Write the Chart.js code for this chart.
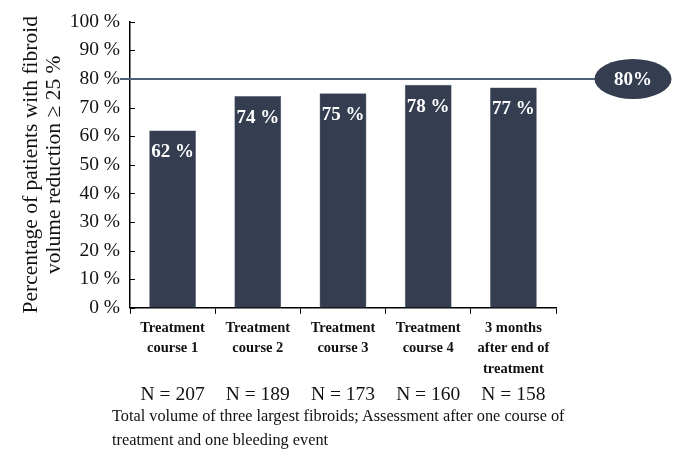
<!DOCTYPE html>
<html>
<head>
<meta charset="utf-8">
<script src="https://cdn.jsdelivr.net/npm/chart.js@4.4.1/dist/chart.umd.min.js"></script>
<style>
  html, body { margin: 0; padding: 0; background: #fff; }
  #wrap { position: relative; width: 685px; height: 471px; }
  #caption {
    position: absolute; left: 112px; top: 404px; white-space: nowrap;
    font-family: 'Liberation Serif', serif; font-size: 16.3px; line-height: 24px; color: #111;
  }
</style>
</head>
<body>
<div id="wrap">
  <canvas id="chart" width="685" height="471"></canvas>
  <div id="caption">Total volume of three largest fibroids; Assessment after one course of<br>treatment and one bleeding event</div>
</div>
<script>
const categories = [
  ['Treatment', 'course 1'],
  ['Treatment', 'course 2'],
  ['Treatment', 'course 3'],
  ['Treatment', 'course 4'],
  ['3 months', 'after end of', 'treatment'],
];
const percentages = [62, 74, 75, 78, 77];
const sampleSizes = [207, 189, 173, 160, 158];
const targetValue = 80;
const yTitle = ['Percentage of patients with fibroid', 'volume reduction \u2265 25 %'];

const serif = "'Liberation Serif', 'Times New Roman', serif";
const barColor = '#343e50';
const lineColor = '#4b6179';

const overlay = {
  id: 'overlay',
  afterDatasetsDraw(chart) {
    const { ctx, chartArea, scales } = chart;
    const y = scales.y;

    // inward ticks on the y axis
    ctx.save();
    ctx.strokeStyle = '#000';
    ctx.lineWidth = 1;
    y.ticks.forEach(t => {
      const py = Math.round(y.getPixelForValue(t.value)) + 0.5;
      ctx.beginPath();
      ctx.moveTo(chartArea.left, py);
      ctx.lineTo(chartArea.left + 5, py);
      ctx.stroke();
    });

    // value labels inside the bars
    const meta = chart.getDatasetMeta(0);
    ctx.fillStyle = '#fff';
    ctx.font = 'bold 19px ' + serif;
    ctx.textAlign = 'center';
    ctx.textBaseline = 'middle';
    meta.data.forEach((bar, i) => {
      ctx.fillText(percentages[i] + ' %', bar.x, bar.y + 22);
    });

    // 80 % target line with ellipse label
    const ty = y.getPixelForValue(targetValue);
    const cx = chartArea.right + 77;
    ctx.strokeStyle = lineColor;
    ctx.lineWidth = 2;
    ctx.beginPath();
    ctx.moveTo(chartArea.left - 10, ty);
    ctx.lineTo(cx, ty);
    ctx.stroke();

    ctx.fillStyle = barColor;
    ctx.beginPath();
    ctx.ellipse(cx, ty, 38.5, 20, 0, 0, Math.PI * 2);
    ctx.fill();
    ctx.fillStyle = '#fff';
    ctx.font = 'bold 19px ' + serif;
    ctx.fillText(targetValue + '%', cx, ty + 1);
    ctx.restore();
  },
};

const canvas = document.getElementById('chart');
new Chart(canvas, {
  type: 'bar',
  data: {
    labels: categories,
    datasets: [{
      data: percentages,
      backgroundColor: barColor,
      borderColor: '#5a6272',
      borderWidth: 0.5,
      barPercentage: 0.55,
      categoryPercentage: 1,
      xAxisID: 'x',
    }],
  },
  options: {
    responsive: false,
    animation: false,
    events: [],
    layout: { padding: { left: 20, right: 129, top: 12, bottom: 64 } },
    plugins: { legend: { display: false }, tooltip: { enabled: false } },
    scales: {
      x: {
        type: 'category',
        weight: 0,
        offset: true,
        grid: { offset: true, drawOnChartArea: false, color: '#000', tickLength: 6, lineWidth: 1 },
        border: { color: '#000', width: 1.5 },
        ticks: {
          color: '#111',
          font: { family: serif, size: 14.5, weight: 'bold', lineHeight: 1.42 },
          padding: 4,
          maxRotation: 0,
          autoSkip: false,
        },
      },
      n: {
        type: 'category',
        position: 'bottom',
        weight: 1,
        offset: true,
        labels: sampleSizes.map(n => 'N = ' + n),
        grid: { display: false, drawTicks: false },
        border: { display: false },
        ticks: {
          color: '#111',
          font: { family: serif, size: 19.5 },
          padding: 0,
          maxRotation: 0,
          autoSkip: false,
        },
      },
      y: {
        min: 0,
        max: 100,
        afterFit(scale) { scale.width = 110; },
        grid: { display: false, drawTicks: false },
        border: { color: '#000', width: 1.5 },
        ticks: {
          stepSize: 10,
          color: '#111',
          padding: 10,
          font: { family: serif, size: 19.5 },
          callback: v => v + ' %',
        },
        title: {
          display: true,
          text: yTitle,
          color: '#111',
          font: { family: serif, size: 21.5, lineHeight: 1.05 },
          padding: { top: 0, bottom: 0 },
        },
      },
    },
  },
  plugins: [overlay],
});
</script>
</body>
</html>
